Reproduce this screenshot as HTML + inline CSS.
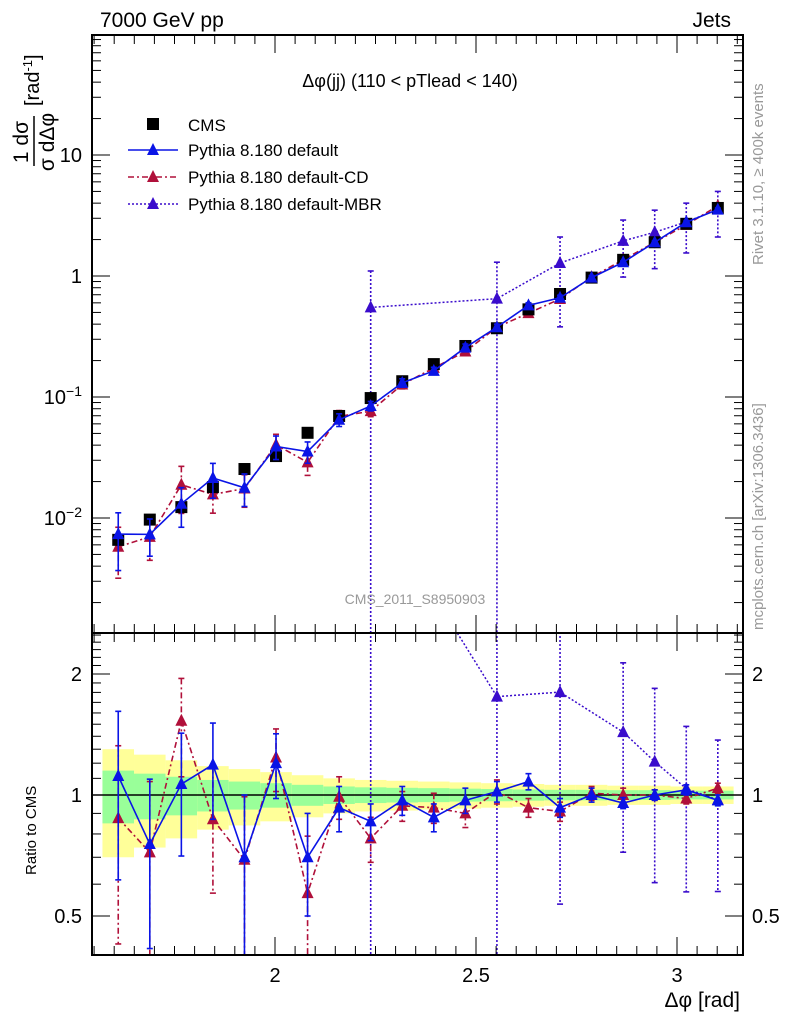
<!DOCTYPE html>
<html><head><meta charset="utf-8"><style>
html,body{margin:0;padding:0;background:#fff;width:786px;height:1024px;overflow:hidden;}
svg{display:block;font-family:"Liberation Sans",sans-serif;overflow:hidden;}
</style></head><body>
<svg id="c" width="786" height="1024" viewBox="0 0 786 1024"></svg>
<script>
const cms=[0.0066,0.0097,0.0123,0.018,0.0254,0.0325,0.0506,0.0697,0.098,0.135,0.187,0.264,0.37,0.53,0.71,0.97,1.36,1.9,2.7,3.65];
const defRatio=[1.115,0.755,1.065,1.19,0.70,1.20,0.70,0.93,0.86,0.97,0.88,0.97,1.02,1.08,0.93,1.0,0.955,1.0,1.03,0.97];
const defErr=[0.5,0.34,0.36,0.32,0.3,0.22,0.2,0.12,0.09,0.08,0.07,0.07,0.06,0.05,0.05,0.04,0.03,0.03,0.03,0.03];
const cdRatio=[0.876,0.72,1.53,0.87,0.69,1.24,0.57,0.99,0.78,0.94,0.93,0.90,1.02,0.93,0.91,1.01,1.0,1.0,0.98,1.04];
const cdErr=[0.45,0.36,0.42,0.3,0.3,0.22,0.22,0.12,0.1,0.08,0.08,0.07,0.07,0.05,0.05,0.04,0.04,0.03,0.03,0.03];
const mbrIdx=[8,12,14,16,17,18,19];
const mbrVal=[0.55,0.65,1.28,1.95,2.3,2.8,3.55];
const mbrLo=[0.0005,0.0005,0.38,0.98,1.15,1.55,2.1];
const mbrHi=[1.1,1.3,2.1,2.9,3.5,4.0,5.0];
const bandY=[0.30,0.26,0.22,0.18,0.16,0.14,0.12,0.10,0.09,0.085,0.08,0.075,0.07,0.065,0.06,0.06,0.055,0.055,0.05,0.05];
const bandG=[0.15,0.13,0.11,0.09,0.08,0.07,0.06,0.05,0.045,0.042,0.04,0.037,0.035,0.032,0.03,0.03,0.028,0.028,0.025,0.025];
const xTicks=[2,2.5,3];

const S=document.getElementById('c');const NS='http://www.w3.org/2000/svg';
function el(t,a,p){const e=document.createElementNS(NS,t);for(const k in a)e.setAttribute(k,a[k]);(p||S).appendChild(e);return e;}
const L=92,R=743,T=35,B=633,RB=955;
const X=x=>-529+402*x;
const Y=v=>276-121*Math.log10(v);
const YR=r=>795-121*Math.log2(r);
const W=0.0785,X0=1.5708;
const xc=i=>X0+W*(i+0.5);
const defs=el('defs',{});
const c1=el('clipPath',{id:'cm'},defs);el('rect',{x:L,y:T,width:R-L,height:B-T},c1);
const c2=el('clipPath',{id:'cr'},defs);el('rect',{x:L,y:B,width:R-L,height:RB-B},c2);
const gm=el('g',{'clip-path':'url(#cm)'});
const gr=el('g',{'clip-path':'url(#cr)'});
for(let i=0;i<20;i++){
 const x1=X(X0+W*i),x2=X(X0+W*(i+1));
 let r=el('rect',{x:x1,y:YR(1+bandY[i]),width:x2-x1,height:YR(1-bandY[i])-YR(1+bandY[i]),fill:'#ffff99'},gr);
 
 r=el('rect',{x:x1,y:YR(1+bandG[i]),width:x2-x1,height:YR(1-bandG[i])-YR(1+bandG[i]),fill:'#99ff99'},gr);
 
}
el('line',{x1:L,x2:R,y1:YR(1),y2:YR(1),stroke:'#000','stroke-width':1.5},gr);
function tri(g,x,y,col,name){const t=el('path',{d:`M${x-6},${y+5}L${x+6},${y+5}L${x},${y-7}Z`,fill:col},g);}
function errbar(g,x,y1,y2,col,dash,name){
 const lo=(g===gm)?T:B, hi=(g===gm)?B:RB;
 y1=Math.max(lo-5,Math.min(hi+5,y1));y2=Math.max(lo-5,Math.min(hi+5,y2));
 const l=el('line',{x1:x,x2:x,y1:y1,y2:y2,stroke:col,'stroke-width':1.6},g);if(dash)l.setAttribute('stroke-dasharray',dash);
 el('line',{x1:x-3,x2:x+3,y1:y1,y2:y1,stroke:col,'stroke-width':1.6},g);el('line',{x1:x-3,x2:x+3,y1:y2,y2:y2,stroke:col,'stroke-width':1.6},g);}
function series(ratio,err,col,dash,name){
 let pm='',pr='';
 for(let i=0;i<20;i++){const x=X(xc(i)),v=cms[i]*ratio[i];
  errbar(gm,x,Y(v*(1+err[i])),Y(v*Math.max(0.05,1-err[i])),col,dash,name+'-err');
  errbar(gr,x,YR(ratio[i]+err[i]),YR(Math.max(0.05,ratio[i]-err[i])),col,dash,name+'-ratio-err');
  pm+=(i?'L':'M')+x+','+Y(v);pr+=(i?'L':'M')+x+','+YR(ratio[i]);}
 const a={fill:'none',stroke:col,'stroke-width':1.6};if(dash)a['stroke-dasharray']=dash;
 let p=el('path',Object.assign({d:pm},a),gm);
 p=el('path',Object.assign({d:pr},a),gr);
 for(let i=0;i<20;i++){const x=X(xc(i));tri(gm,x,Y(cms[i]*ratio[i]),col,name+'-point');tri(gr,x,YR(ratio[i]),col,name+'-ratio-point');}
}
(function(){const col='#3a0ccc',d='2,2';let pm='',pr='';
 mbrIdx.forEach((i,k)=>{const x=X(xc(i));
  errbar(gm,x,Y(mbrHi[k]),Y(mbrLo[k]),col,d,'mbr-err');
  errbar(gr,x,YR(mbrHi[k]/cms[i]),YR(mbrLo[k]/cms[i]),col,d,'mbr-ratio-err');
  pm+=(k?'L':'M')+x+','+Y(mbrVal[k]);pr+=(k?'L':'M')+x+','+YR(mbrVal[k]/cms[i]);});
 let p=el('path',{d:pm,fill:'none',stroke:col,'stroke-width':1.5,'stroke-dasharray':d},gm);
 p=el('path',{d:pr,fill:'none',stroke:col,'stroke-width':1.5,'stroke-dasharray':d},gr);
 mbrIdx.forEach((i,k)=>{const x=X(xc(i));tri(gm,x,Y(mbrVal[k]),col,'mbr-point');tri(gr,x,YR(mbrVal[k]/cms[i]),col,'mbr-ratio-point');});
})();
series(cdRatio,cdErr,'#b0103a','6,3,2,3','cd');
for(let i=0;i<20;i++){const r=el('rect',{x:X(xc(i))-6,y:Y(cms[i])-6,width:12,height:12,fill:'#000'},gm);}
series(defRatio,defErr,'#0a14e6',null,'default');
el('rect',{x:L,y:T,width:R-L,height:B-T,fill:'none',stroke:'#000','stroke-width':2});
el('rect',{x:L,y:B,width:R-L,height:RB-B,fill:'none',stroke:'#000','stroke-width':2});
for(let k=0;k<=32;k++){const v=1.55+0.05*k,x=X(v);if(x<L||x>R)continue;const maj=Math.abs(v*10-Math.round(v*10))<1e-6&&Math.abs(v*2-Math.round(v*2))<1e-6;const len=maj?18:9;
 [T,B].forEach(y0=>el('line',{x1:x,x2:x,y1:y0,y2:y0+len,stroke:'#000'}));
 [B,RB].forEach(y0=>el('line',{x1:x,x2:x,y1:y0-len,y2:y0,stroke:'#000'}));}
xTicks.forEach(v=>{const t=el('text',{x:X(v),y:982,'font-size':20,'text-anchor':'middle'});t.textContent=String(v);});
for(let e=-3;e<=1;e++)for(let m=1;m<=9;m++){const v=m*Math.pow(10,e),y=Y(v);if(y<T||y>B)continue;const len=m==1?18:9;
 el('line',{x1:L,x2:L+len,y1:y,y2:y,stroke:'#000'});el('line',{x1:R-len,x2:R,y1:y,y2:y,stroke:'#000'});}
[['10',10],['1',1]].forEach(([s,v])=>{const t=el('text',{x:82,y:Y(v)+7,'font-size':20,'text-anchor':'end'});t.textContent=s;});
[['−1',0.1],['−2',0.01]].forEach(([s,v])=>{const t=el('text',{x:82,y:Y(v)+7,'font-size':20,'text-anchor':'end'});t.innerHTML='10<tspan dy="-8" font-size="14">'+s+'</tspan>';});
for(let r=0.4;r<=2.55;r+=0.1){const y=YR(r);if(y<B||y>RB)continue;const maj=Math.abs(r-0.5)<1e-6||Math.abs(r-1)<1e-6||Math.abs(r-2)<1e-6;const len=maj?18:9;
 el('line',{x1:L,x2:L+len,y1:y,y2:y,stroke:'#000'});el('line',{x1:R-len,x2:R,y1:y,y2:y,stroke:'#000'});}
[['2',2],['1',1],['0.5',0.5]].forEach(([s,v])=>{let t=el('text',{x:82,y:YR(v)+7,'font-size':20,'text-anchor':'end'});t.textContent=s;
 t=el('text',{x:752,y:YR(v)+7,'font-size':20});t.textContent=s;});
function txt(x,y,s,a,name){const t=el('text',Object.assign({x:x,y:y},a));t.innerHTML=s;return t;}
txt(100,27,'7000 GeV pp',{'font-size':21},'energy-label');
txt(731,27,'Jets',{'font-size':21,'text-anchor':'end'},'process-label');
txt(410,87,'Δφ(jj) (110 &lt; pTlead &lt;  140)',{'font-size':18,'text-anchor':'middle'},'plot-title');
txt(415,604,'CMS_2011_S8950903',{'font-size':14,fill:'#999','text-anchor':'middle'},'analysis-id');
txt(763,265,'Rivet 3.1.10, ≥ 400k events',{'font-size':15,fill:'#999',transform:'rotate(-90 763 265)'},'rivet-label');
txt(763,630,'mcplots.cern.ch [arXiv:1306.3436]',{'font-size':15,fill:'#999',transform:'rotate(-90 763 630)'},'mcplots-label');
txt(740,1007,'Δφ [rad]',{'font-size':21,'text-anchor':'end'},'x-axis-title');
txt(36,875,'Ratio to CMS',{'font-size':15,transform:'rotate(-90 36 875)'},'ratio-axis-title');
const yt=el('g',{transform:'translate(34,190) rotate(-90)'});
el('text',{x:48,y:-6,'font-size':21,'text-anchor':'middle'},yt).textContent='1 dσ';
el('line',{x1:24,x2:74,y1:0,y2:0,stroke:'#000','stroke-width':1.5},yt);
el('text',{x:48,y:20,'font-size':21,'text-anchor':'middle'},yt).textContent='σ dΔφ';
el('text',{x:84,y:5,'font-size':20},yt).innerHTML='[rad<tspan dy="-7" font-size="13">-1</tspan><tspan dy="7">]</tspan>';
const lg=el('g',{});
el('rect',{x:147,y:118,width:12,height:12,fill:'#000'},lg);
txt(188,131,'CMS',{'font-size':17},'legend-cms');
const ents=[['Pythia 8.180 default','#0a14e6',null,150],['Pythia 8.180 default-CD','#b0103a','6,3,2,3',177],['Pythia 8.180 default-MBR','#3a0ccc','2,2',204]];
ents.forEach(([s,c,d,y])=>{const a={x1:128,x2:178,y1:y,y2:y,stroke:c,'stroke-width':1.6};if(d)a['stroke-dasharray']=d;el('line',a,lg);tri(lg,153,y,c,'legend-marker');txt(188,y+6,s,{'font-size':17},'legend-entry');});
</script>
</body></html>
